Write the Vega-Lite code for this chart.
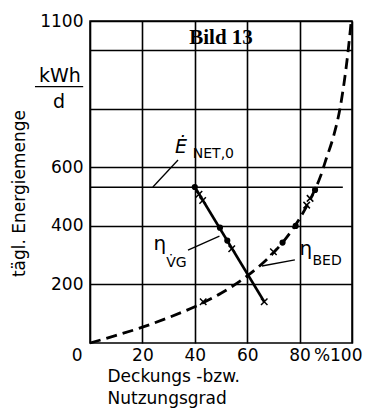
{
  "$schema": "https://vega.github.io/schema/vega-lite/v6.json",
  "width": 262,
  "height": 322,
  "autosize": "none",
  "padding": {"left": 90, "top": 21, "right": 20, "bottom": 71},
  "background": "white",
  "config": {"view": {"stroke": "#000", "strokeWidth": 1.5}, "font": "DejaVu Sans"},
  "datasets": {
    "bed": [
      {"x": 0, "y": 0}, {"x": 10, "y": 26}, {"x": 20, "y": 54}, {"x": 30, "y": 87},
      {"x": 40, "y": 124}, {"x": 50, "y": 170}, {"x": 60, "y": 229}, {"x": 70, "y": 308},
      {"x": 75, "y": 360}, {"x": 80, "y": 425}, {"x": 85, "y": 508}, {"x": 88, "y": 570},
      {"x": 90, "y": 625}, {"x": 93, "y": 708}, {"x": 95.4, "y": 800}, {"x": 97, "y": 890},
      {"x": 98.6, "y": 1004}, {"x": 99.7, "y": 1100}
    ],
    "vg": [{"x": 40, "y": 533}, {"x": 66.5, "y": 141}],
    "enet": [{"x": 0, "y": 532}, {"x": 96.5, "y": 532}],
    "crosses": [
      {"x": 41.6, "y": 508}, {"x": 43.0, "y": 487}, {"x": 54.1, "y": 322}, {"x": 66.5, "y": 141},
      {"x": 43.2, "y": 141}, {"x": 70, "y": 312}, {"x": 82.7, "y": 471}, {"x": 84, "y": 494}
    ],
    "dots": [
      {"x": 40, "y": 533}, {"x": 49.6, "y": 394}, {"x": 52.4, "y": 350},
      {"x": 73.5, "y": 343}, {"x": 78.5, "y": 400}, {"x": 85.9, "y": 523}
    ],
    "leaders": [
      {"x": 24, "y": 533, "x2": 33.6, "y2": 625},
      {"x": 37.4, "y": 317, "x2": 49.4, "y2": 365},
      {"x": 78.2, "y": 284, "x2": 65.6, "y2": 263},
      {"x": -21, "y": 876, "x2": -2.6, "y2": 876}
    ]
  },
  "layer": [
    {
      "data": {"name": "bed"},
      "mark": {"type": "line", "interpolate": "monotone", "strokeDash": [11, 6], "strokeWidth": 2.8, "color": "#000", "clip": false},
      "encoding": {
        "x": {
          "field": "x", "type": "quantitative",
          "scale": {"domain": [0, 100], "nice": false, "zero": false},
          "axis": {
            "values": [0, 20, 40, 60, 80, 100],
            "format": "d",
            "labelExpr": "datum.value == 100 ? '%100' : datum.label",
            "labelAlign": {"condition": {"test": "datum.value == 0 || datum.value == 100", "value": "right"}, "value": "center"},
            "labelOffset": {"condition": [{"test": "datum.value == 0", "value": -8}, {"test": "datum.value == 100", "value": 10}], "value": 0},
            "labelFlush": false,
            "labelOverlap": false,
            "grid": true, "gridColor": "#000", "gridWidth": 1.6, "gridOpacity": 1,
            "domain": false, "ticks": false,
            "labelFont": "DejaVu Sans", "labelFontSize": 17, "labelColor": "#000", "labelPadding": 4,
            "title": ["Deckungs -bzw.", "Nutzungsgrad"],
            "titleFont": "DejaVu Sans", "titleFontSize": 17, "titleFontWeight": "normal", "titleColor": "#000",
            "titleAlign": "left", "titleBaseline": "alphabetic", "titleX": 17, "titleY": 38, "titleLineHeight": 22
          }
        },
        "y": {
          "field": "y", "type": "quantitative",
          "scale": {"domain": [0, 1100], "nice": false},
          "axis": {
            "values": [200, 400, 600, 800, 1000, 1100],
            "format": "d",
            "labelExpr": "datum.value == 800 || datum.value == 1000 ? '' : datum.label",
            "labelFlush": false,
            "labelOverlap": false,
            "grid": true, "gridColor": "#000", "gridWidth": 1.3, "gridOpacity": 1,
            "domain": false, "ticks": false,
            "labelFont": "DejaVu Sans", "labelFontSize": 17, "labelColor": "#000", "labelPadding": 7,
            "title": "tägl. Energiemenge",
            "titleFont": "DejaVu Sans", "titleFontSize": 17, "titleFontWeight": "normal", "titleColor": "#000",
            "titleAngle": -90, "titleX": -71, "titleY": 172, "titleAlign": "center", "titleBaseline": "middle"
          }
        }
      }
    },
    {
      "data": {"name": "vg"},
      "mark": {"type": "line", "strokeWidth": 2.6, "color": "#000"},
      "encoding": {"x": {"field": "x", "type": "quantitative"}, "y": {"field": "y", "type": "quantitative"}}
    },
    {
      "data": {"name": "enet"},
      "mark": {"type": "line", "strokeWidth": 1.5, "color": "#000"},
      "encoding": {"x": {"field": "x", "type": "quantitative"}, "y": {"field": "y", "type": "quantitative"}}
    },
    {
      "data": {"name": "leaders"},
      "mark": {"type": "rule", "strokeWidth": 1.3, "color": "#000", "clip": false},
      "encoding": {
        "x": {"field": "x", "type": "quantitative"}, "y": {"field": "y", "type": "quantitative"},
        "x2": {"field": "x2"}, "y2": {"field": "y2"}
      }
    },
    {
      "data": {"name": "crosses"},
      "mark": {"type": "point", "shape": "M-1,-1L1,1M1,-1L-1,1", "size": 42, "filled": false, "stroke": "#000", "strokeWidth": 1.5, "opacity": 1},
      "encoding": {"x": {"field": "x", "type": "quantitative"}, "y": {"field": "y", "type": "quantitative"}}
    },
    {
      "data": {"name": "dots"},
      "mark": {"type": "point", "shape": "circle", "size": 38, "filled": true, "color": "#000", "opacity": 1},
      "encoding": {"x": {"field": "x", "type": "quantitative"}, "y": {"field": "y", "type": "quantitative"}}
    },
    {
      "data": {"values": [{"x": 50, "y": 1023, "t": "Bild 13"}]},
      "mark": {"type": "text", "font": "Liberation Serif", "fontWeight": "bold", "fontSize": 21, "align": "center", "baseline": "alphabetic", "color": "#000"},
      "encoding": {"x": {"field": "x", "type": "quantitative"}, "y": {"field": "y", "type": "quantitative"}, "text": {"field": "t"}}
    },
    {
      "data": {"values": [{"x": -11.5, "y": 893, "t": "kWh"}, {"x": -11.8, "y": 803, "t": "d"}]},
      "mark": {"type": "text", "font": "DejaVu Sans", "fontSize": 19, "align": "center", "baseline": "alphabetic", "color": "#000", "clip": false},
      "encoding": {"x": {"field": "x", "type": "quantitative"}, "y": {"field": "y", "type": "quantitative"}, "text": {"field": "t"}}
    },
    {
      "data": {"values": [{"x": 34.7, "y": 649, "t": "Ė"}]},
      "mark": {"type": "text", "font": "DejaVu Sans", "fontSize": 19, "fontStyle": "italic", "align": "center", "baseline": "alphabetic", "color": "#000"},
      "encoding": {"x": {"field": "x", "type": "quantitative"}, "y": {"field": "y", "type": "quantitative"}, "text": {"field": "t"}}
    },
    {
      "data": {"values": [{"x": 26.7, "y": 318, "t": "η"}, {"x": 82.4, "y": 300, "t": "η"}]},
      "mark": {"type": "text", "font": "DejaVu Sans", "fontSize": 20, "align": "center", "baseline": "alphabetic", "color": "#000"},
      "encoding": {"x": {"field": "x", "type": "quantitative"}, "y": {"field": "y", "type": "quantitative"}, "text": {"field": "t"}}
    },
    {
      "data": {"values": [{"x": 47.1, "y": 632, "t": "NET,0"}, {"x": 33, "y": 260, "t": "V̇G"}, {"x": 90.5, "y": 266.5, "t": "BED"}]},
      "mark": {"type": "text", "font": "DejaVu Sans", "fontSize": 14, "align": "center", "baseline": "alphabetic", "color": "#000"},
      "encoding": {"x": {"field": "x", "type": "quantitative"}, "y": {"field": "y", "type": "quantitative"}, "text": {"field": "t"}}
    }
  ]
}
